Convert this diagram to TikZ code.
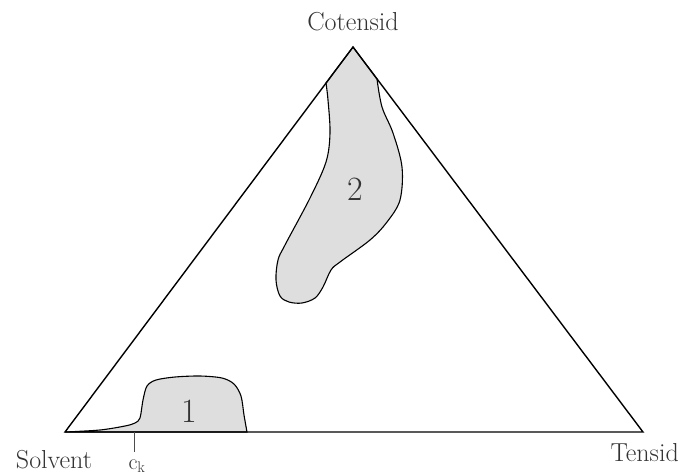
\documentclass[tikz,border=0pt]{standalone}
\begin{document}
\begin{tikzpicture}[x=1pt,y=-1pt,
  edge/.style={line width=1.4pt,line join=miter},
  region/.style={fill=black!13,draw=black,line width=1.1pt},
  lbl/.style={font=\fontsize{26}{30}\selectfont,text=black!80,inner sep=0pt},
  num/.style={font=\fontsize{34}{38}\selectfont,text=black!80,inner sep=0pt}]
\useasboundingbox (0,0) rectangle (681,475);
\coordinate (S) at (65,432);
\coordinate (T) at (643,432);
\coordinate (C) at (353,47);
\coordinate (L2) at (326,83);
\coordinate (R2) at (377,79);
% region 2
\filldraw[region] (L2) -- (C) -- (R2) --
  plot[smooth,tension=0.55] coordinates {(377,79) (382,107) (393,133) (402,167) (400,200) (387,222) (370,240) (340,262) (331,270) (323,287) (315,298) (302,303) (289,302) (280,296) (276,280) (278,260) (285,245) (310,198) (326,162) (330,133) (328,100) (326,83)} -- cycle;
% region 1
\filldraw[region] (S) -- plot[smooth,tension=0.5] coordinates {(65,432) (100,430) (125,426) (135,423) (140,418) (143,400) (147,386) (156,380) (175,377) (200,376) (222,378) (234,384) (241,396) (244,415) (247,432)} -- cycle;
% triangle
\draw[edge] (S) -- (C) -- (T) -- cycle;
% c_k tick
\coordinate (K) at (134,432);
\coordinate (Kb) at (134,452);
\draw[line width=0.7pt,black!70] (K) -- (Kb);
\node[lbl,font=\fontsize{22}{24}\selectfont] (ck) at (137,466) {c\textsubscript{k}};
% labels
\node[lbl] (cot) at (353,22) {Cotensid};
\node[lbl] (sol) at (54,460) {Solvent};
\node[lbl,anchor=east] (ten) at (679,453) {Tensid};
\node[num] (n1) at (189,411) {1};
\node[num] (n2) at (355,189) {2};
\end{tikzpicture}
\end{document}
